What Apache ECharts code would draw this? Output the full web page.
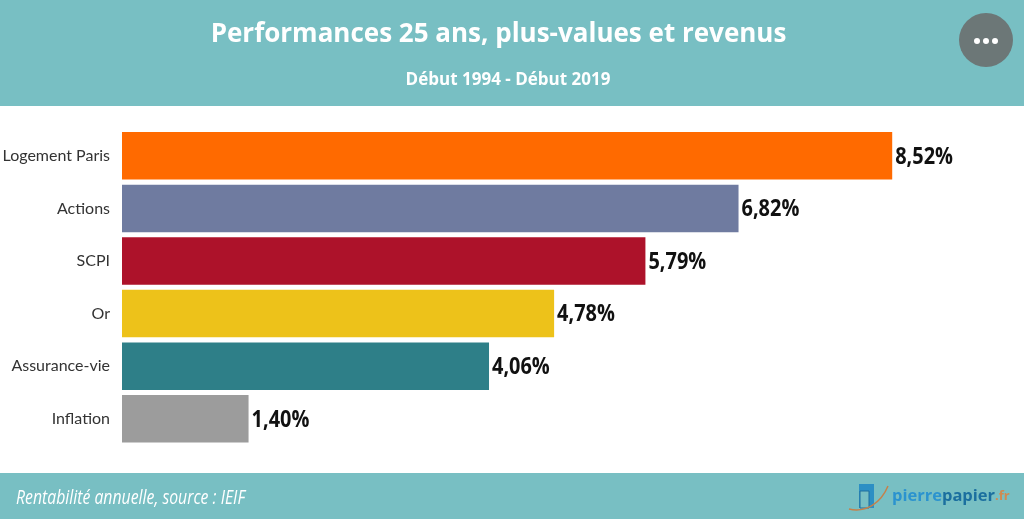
<!DOCTYPE html>
<html>
<head>
<meta charset="utf-8">
<style>html,body{margin:0;padding:0;background:#fff}#chart{width:1024px;height:519px}</style>
<script src="https://cdn.jsdelivr.net/npm/echarts@6/dist/echarts.min.js"></script>
</head>
<body>
<div id="chart"></div>
<script>
var categories = ['Logement Paris', 'Actions', 'SCPI', 'Or', 'Assurance-vie', 'Inflation'];
var values = [8.52, 6.82, 5.79, 4.78, 4.06, 1.40];
var barColors = ['#ff6a00', '#6f7ba0', '#ad122a', '#edc21a', '#2e7f88', '#9c9c9c'];

var teal = '#78bfc3';

var chart = echarts.init(document.getElementById('chart'), null, {renderer: 'canvas'});
chart.setOption({
	animation: false,
	backgroundColor: '#fff',
	title: [
		{
			text: 'Performances 25 ans, plus-values et revenus',
			left: 493.5, top: 17, textAlign: 'center',
			textStyle: {color: '#fff', fontFamily: 'Open Sans', fontSize: 26, fontWeight: 700}
		},
		{
			text: 'Début 1994 - Début 2019',
			left: 503, top: 67, textAlign: 'center',
			textStyle: {color: '#fff', fontFamily: 'Open Sans', fontSize: 17, fontWeight: 700}
		}
	],
	grid: {left: 122, top: 129.5, width: 813.6, height: 315.6, outerBoundsMode: 'none'},
	xAxis: {type: 'value', min: 0, max: 9, show: false},
	yAxis: {
		type: 'category',
		data: categories,
		inverse: true,
		axisLine: {show: false},
		axisTick: {show: false},
		axisLabel: {color: '#333', fontFamily: 'Lato', fontSize: 16, margin: 12, padding: [9, 0, 0, 0]}
	},
	series: [
		{
			type: 'bar',
			barWidth: 47.5,
			data: values.map(function (v, i) {
				return {value: v, itemStyle: {color: barColors[i]}};
			})
		},
		{
			// condensed value labels, no narrow font is installed
			type: 'custom',
			data: values.map(function (v, i) { return [v, i]; }),
			encode: {x: 0, y: 1},
			renderItem: function (params, api) {
				var p = api.coord([api.value(0), api.value(1)]);
				return {
					type: 'text',
					x: p[0] + 3,
					y: p[1] + 1,
					scaleX: 0.83,
					style: {
						text: api.value(0).toFixed(2).replace('.', ',') + '%',
						fill: '#111',
						font: '700 24px "Open Sans"',
						align: 'left',
						verticalAlign: 'middle'
					}
				};
			}
		}
	],
	graphic: [
		{type: 'rect', z: -1, shape: {x: 0, y: 0, width: 1024, height: 106}, style: {fill: teal}},
		{type: 'rect', z: -1, shape: {x: 0, y: 473, width: 1024, height: 46}, style: {fill: teal}},
		{type: 'circle', shape: {cx: 986, cy: 40, r: 27}, style: {fill: '#6c7777'}},
		{type: 'circle', shape: {cx: 977, cy: 41, r: 3}, style: {fill: '#fff'}},
		{type: 'circle', shape: {cx: 986, cy: 41, r: 3}, style: {fill: '#fff'}},
		{type: 'circle', shape: {cx: 995, cy: 41, r: 3}, style: {fill: '#fff'}},
		{
			type: 'text', x: 16, y: 498, scaleX: 0.79,
			style: {
				text: 'Rentabilité annuelle, source : IEIF',
				fill: '#fff',
				font: 'italic 400 20px "Open Sans"',
				verticalAlign: 'middle'
			}
		},
		// logo
		{type: 'rect', shape: {x: 859, y: 484, width: 15, height: 24}, style: {fill: '#2c8fc4'}},
		{type: 'rect', shape: {x: 860, y: 491, width: 9, height: 17}, style: {fill: teal, stroke: '#1f6f9e', lineWidth: 1}},
		{type: 'bezierCurve', shape: {x1: 849, y1: 509, cpx1: 866, cpy1: 513, cpx2: 881, cpy2: 503, x2: 888, y2: 486}, style: {fill: 'none', stroke: '#c5814a', lineWidth: 1.5}},
		{
			type: 'text', x: 892, y: 488,
			style: {
				rich: {
					a: {fill: '#2b93cf', font: '700 16.5px "Open Sans"'},
					b: {fill: '#1b6f9f', font: '700 16.5px "Open Sans"'},
					c: {fill: '#d08a50', font: '700 13px "Open Sans"'}
				},
				text: '{a|pierre}{b|papier}{c|.fr}'
			}
		}
	]
});
</script>
</body>
</html>
